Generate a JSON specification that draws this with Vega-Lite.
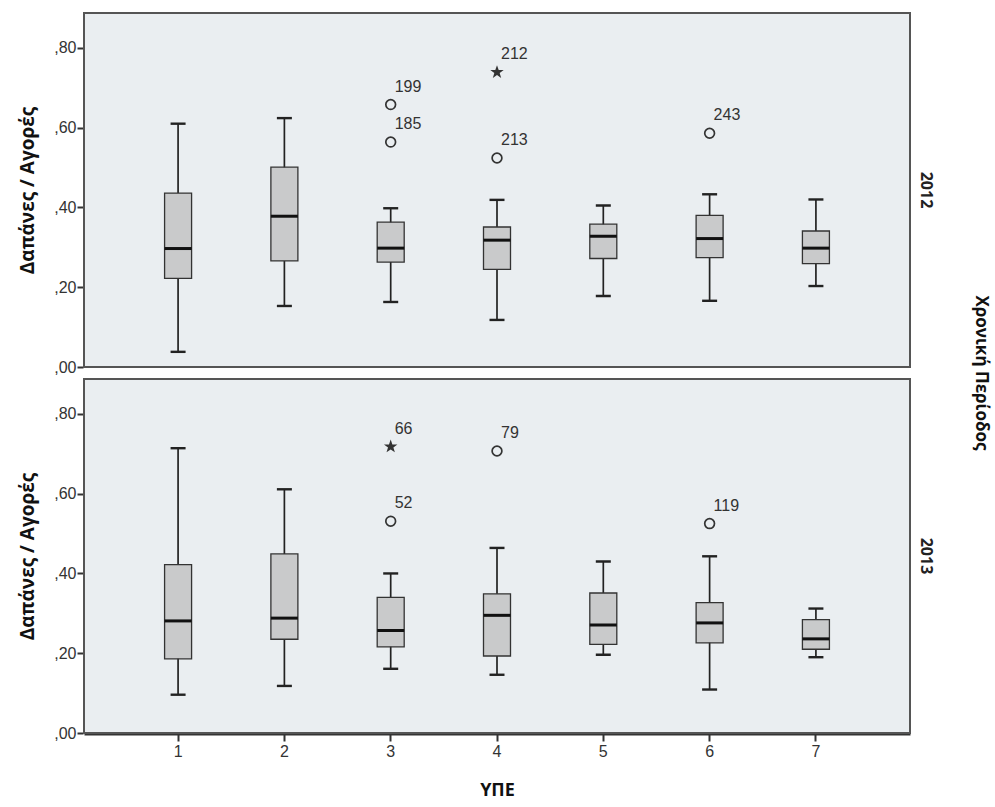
{
  "$schema": "https://vega.github.io/schema/vega-lite/v6.json",
  "background": "white",
  "padding": {"left": 18, "top": 12, "right": 5, "bottom": 5},
  "data": {"values": [
    {"year": "2012", "upe": 1, "kind": "box", "lo": 0.038, "q1": 0.222, "med": 0.297, "q3": 0.436, "hi": 0.61},
    {"year": "2012", "upe": 2, "kind": "box", "lo": 0.153, "q1": 0.266, "med": 0.378, "q3": 0.501, "hi": 0.624},
    {"year": "2012", "upe": 3, "kind": "box", "lo": 0.163, "q1": 0.263, "med": 0.298, "q3": 0.363, "hi": 0.398},
    {"year": "2012", "upe": 4, "kind": "box", "lo": 0.118, "q1": 0.245, "med": 0.318, "q3": 0.351, "hi": 0.419},
    {"year": "2012", "upe": 5, "kind": "box", "lo": 0.178, "q1": 0.272, "med": 0.328, "q3": 0.358, "hi": 0.405},
    {"year": "2012", "upe": 6, "kind": "box", "lo": 0.166, "q1": 0.274, "med": 0.322, "q3": 0.38, "hi": 0.433},
    {"year": "2012", "upe": 7, "kind": "box", "lo": 0.203, "q1": 0.259, "med": 0.298, "q3": 0.341, "hi": 0.42},
    {"year": "2012", "upe": 3, "kind": "o", "value": 0.658, "id": "199"},
    {"year": "2012", "upe": 3, "kind": "o", "value": 0.564, "id": "185"},
    {"year": "2012", "upe": 4, "kind": "*", "value": 0.739, "id": "212"},
    {"year": "2012", "upe": 4, "kind": "o", "value": 0.524, "id": "213"},
    {"year": "2012", "upe": 6, "kind": "o", "value": 0.586, "id": "243"},
    {"year": "2013", "upe": 1, "kind": "box", "lo": 0.096, "q1": 0.186, "med": 0.281, "q3": 0.422, "hi": 0.714},
    {"year": "2013", "upe": 2, "kind": "box", "lo": 0.118, "q1": 0.235, "med": 0.288, "q3": 0.449, "hi": 0.611},
    {"year": "2013", "upe": 3, "kind": "box", "lo": 0.161, "q1": 0.216, "med": 0.257, "q3": 0.34, "hi": 0.4},
    {"year": "2013", "upe": 4, "kind": "box", "lo": 0.146, "q1": 0.193, "med": 0.295, "q3": 0.349, "hi": 0.464},
    {"year": "2013", "upe": 5, "kind": "box", "lo": 0.196, "q1": 0.222, "med": 0.271, "q3": 0.351, "hi": 0.43},
    {"year": "2013", "upe": 6, "kind": "box", "lo": 0.109, "q1": 0.226, "med": 0.276, "q3": 0.327, "hi": 0.443},
    {"year": "2013", "upe": 7, "kind": "box", "lo": 0.19, "q1": 0.21, "med": 0.236, "q3": 0.284, "hi": 0.312},
    {"year": "2013", "upe": 3, "kind": "*", "value": 0.718, "id": "66"},
    {"year": "2013", "upe": 3, "kind": "o", "value": 0.531, "id": "52"},
    {"year": "2013", "upe": 4, "kind": "o", "value": 0.707, "id": "79"},
    {"year": "2013", "upe": 6, "kind": "o", "value": 0.525, "id": "119"}
  ]},
  "facet": {
    "row": {
      "field": "year", "type": "nominal",
      "header": {
        "title": "Χρονική Περίοδος",
        "titleOrient": "right", "titleAngle": 90, "titleFont": "Open Sans", "titleFontWeight": "bold", "titleFontSize": 17, "titleColor": "#111", "titlePadding": 28,
        "labelOrient": "right", "labelAngle": 90, "labelFont": "Open Sans", "labelFontWeight": "bold", "labelFontSize": 16, "labelColor": "#222", "labelPadding": 7
      }
    }
  },
  "spacing": {"row": 10},
  "spec": {
    "width": 826,
    "height": 354,
    "encoding": {
      "x": {
        "field": "upe", "type": "ordinal",
        "scale": {"paddingInner": 0, "paddingOuter": 0.385},
        "axis": {
          "title": "ΥΠΕ", "titleFont": "Open Sans", "titleFontWeight": "bold", "titleFontSize": 18, "titleColor": "#111", "titlePadding": 22,
          "labelAngle": 0, "labelFont": "Liberation Sans", "labelFontSize": 16, "labelColor": "#333", "labelPadding": 2,
          "tickSize": 7, "tickColor": "#333", "tickWidth": 2, "domainColor": "#333", "domainWidth": 2
        }
      }
    },
    "layer": [
      {
        "transform": [{"filter": "datum.kind === 'box'"}],
        "mark": {"type": "rule", "color": "#222", "strokeWidth": 1.7},
        "encoding": {
          "y": {"field": "lo", "type": "quantitative",
            "scale": {"domain": [0, 0.8875], "nice": false, "zero": false},
            "axis": {
              "title": "Δαπάνες / Αγορές", "titleFont": "Open Sans", "titleFontWeight": "bold", "titleFontSize": 19, "titleColor": "#111", "titlePadding": 16,
              "values": [0, 0.2, 0.4, 0.6, 0.8], "grid": false,
              "labelExpr": "replace(format(datum.value, '.2f'), '0.', ',')",
              "labelFont": "Liberation Sans", "labelFontSize": 16, "labelColor": "#333", "labelPadding": 1,
              "tickSize": 6, "tickColor": "#333", "tickWidth": 2, "domain": false
            }
          },
          "y2": {"field": "hi"}
        }
      },
      {
        "transform": [{"filter": "datum.kind === 'box'"}],
        "mark": {"type": "bar", "size": 27, "fill": "#c9cacb", "stroke": "#333", "strokeWidth": 1.3},
        "encoding": {
          "y": {"field": "q1", "type": "quantitative"},
          "y2": {"field": "q3"}
        }
      },
      {
        "transform": [{"filter": "datum.kind === 'box'"}],
        "mark": {"type": "tick", "size": 27, "thickness": 3, "color": "#111", "opacity": 1},
        "encoding": {"y": {"field": "med", "type": "quantitative"}}
      },
      {
        "transform": [{"filter": "datum.kind === 'box'"}],
        "mark": {"type": "tick", "size": 15, "thickness": 2.4, "color": "#222", "opacity": 1},
        "encoding": {"y": {"field": "lo", "type": "quantitative"}}
      },
      {
        "transform": [{"filter": "datum.kind === 'box'"}],
        "mark": {"type": "tick", "size": 15, "thickness": 2.4, "color": "#222", "opacity": 1},
        "encoding": {"y": {"field": "hi", "type": "quantitative"}}
      },
      {
        "transform": [{"filter": "datum.kind === 'o'"}],
        "mark": {"type": "point", "shape": "circle", "filled": false, "size": 95, "stroke": "#333", "strokeWidth": 1.7, "opacity": 1},
        "encoding": {"y": {"field": "value", "type": "quantitative"}}
      },
      {
        "transform": [{"filter": "datum.kind === '*'"}],
        "mark": {"type": "point", "shape": "M0,-1L0.24,-0.31L0.95,-0.31L0.38,0.12L0.59,0.81L0,0.4L-0.59,0.81L-0.38,0.12L-0.95,-0.31L-0.24,-0.31Z", "filled": true, "size": 200, "color": "#333", "opacity": 1},
        "encoding": {"y": {"field": "value", "type": "quantitative"}}
      },
      {
        "transform": [{"filter": "datum.kind !== 'box'"}],
        "mark": {"type": "text", "align": "left", "baseline": "middle", "dx": 4, "dy": -18, "font": "Liberation Sans", "fontSize": 16, "color": "#333"},
        "encoding": {
          "y": {"field": "value", "type": "quantitative"},
          "text": {"field": "id"}
        }
      }
    ]
  },
  "config": {
    "view": {"fill": "#eaeef1", "stroke": "#555", "strokeWidth": 2},
    "axis": {"grid": false}
  }
}
